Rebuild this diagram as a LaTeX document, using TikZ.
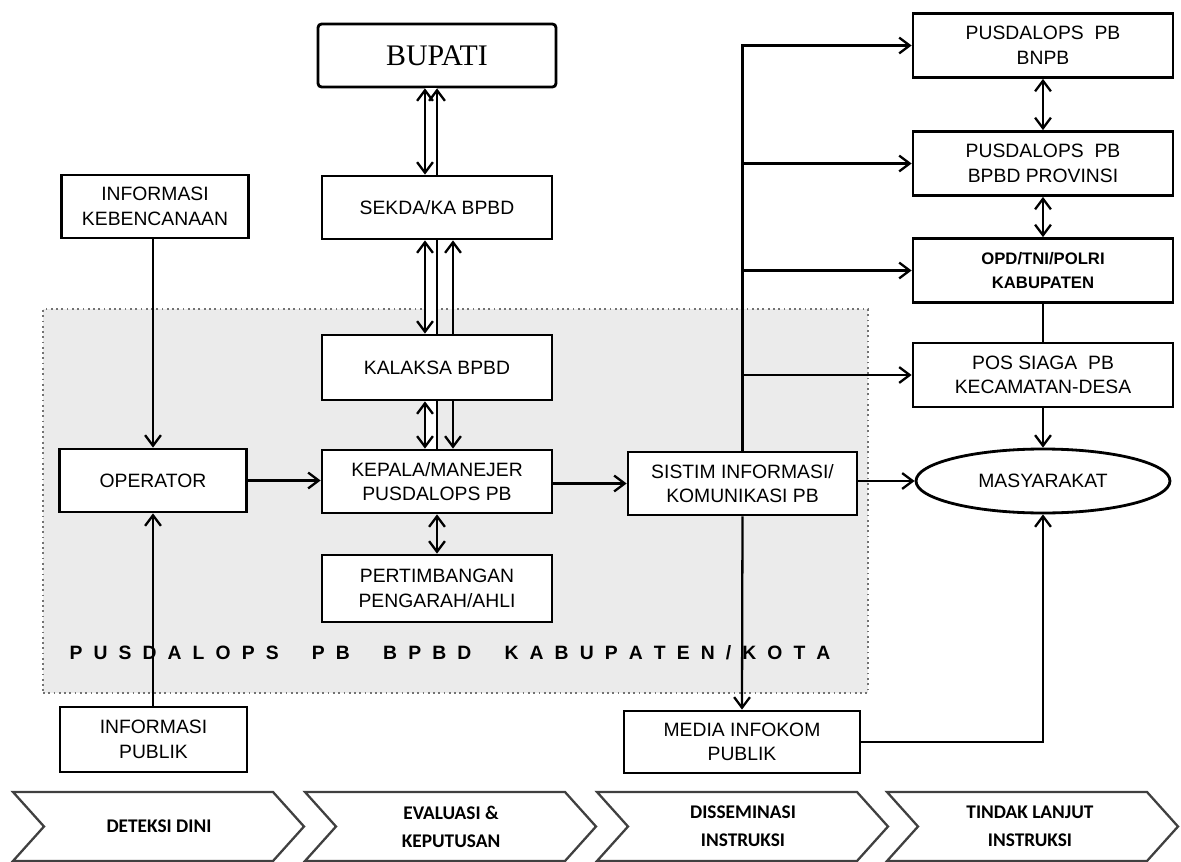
\documentclass[tikz,border=0pt]{standalone}
\usepackage{fontspec}
\setmainfont{Liberation Sans}
\newfontfamily\headfont{Liberation Serif}
\newfontfamily\phasefont{Carlito}
\usetikzlibrary{arrows.meta,shapes.geometric}

\begin{document}
\begin{tikzpicture}[
	x=0.02cm, y=-0.02cm,
	box/.style={draw, rectangle, line width=1.6pt, fill=white, align=center, inner sep=1pt,
		minimum width=4.6cm, minimum height=1.26cm, font=\fontsize{11}{14}\selectfont},
	sidebox/.style={box, minimum width=3.74cm},
	rightbox/.style={box, minimum width=5.2cm, minimum height=1.28cm},
	oval/.style={draw, ellipse, line width=1.6pt, fill=white, inner sep=0pt,
		minimum width=5.08cm, minimum height=1.28cm, font=\fontsize{11}{14}\selectfont},
	zone/.style={draw=black!55, dotted, line width=1pt, fill=black!8, inner sep=0pt},
	phase/.style={draw=black!75, line width=1.3pt, fill=white},
	phasetext/.style={align=center, font=\phasefont\bfseries\fontsize{11}{16}\selectfont},
	link/.style={line width=1.3pt},
	connect/.style={link, ->},
	>={Straight Barb[length=6pt,width=9pt,line width=1.3pt]}
	]
	\useasboundingbox (0,0) rectangle (1181,862);
	
	%-----------------------
	% PUSDALOPS area (background)
	%-----------------------
	\node[zone, minimum width=16.5cm, minimum height=7.68cm] (zone) at (455.5,501) {};
	\node[font=\bfseries\fontsize{11}{13}\selectfont] (zonelabel) at (450,653)
	{\makebox[15.22cm][s]{P\hfill U\hfill S\hfill D\hfill A\hfill L\hfill O\hfill P\hfill S\hfill\hfill\hfill
			P\hfill B\hfill\hfill\hfill B\hfill P\hfill B\hfill D\hfill\hfill\hfill
			K\hfill A\hfill B\hfill U\hfill P\hfill A\hfill T\hfill E\hfill N\hfill /\hfill K\hfill O\hfill T\hfill A}};
	
	%-----------------------
	% Column 1: detection
	%-----------------------
	\node[sidebox] (infokeb)  at (155,206.5) {INFORMASI\\KEBENCANAAN};
	\node[sidebox] (operator) at (153,480.5) {OPERATOR};
	\node[sidebox, minimum height=1.3cm] (infopub) at (153.5,739.5) {INFORMASI\\PUBLIK};
	
	%-----------------------
	% Column 2: decision chain
	%-----------------------
	\node[box, minimum width=4.76cm, rounded corners=2pt, font=\headfont\fontsize{17}{18}\selectfont]
	(bupati) at (437,55.5) {BUPATI};
	\node[box] (sekda)   at (437,207.5) {SEKDA/KA BPBD};
	\node[box, minimum height=1.3cm] (kalaksa) at (437,367.5) {KALAKSA BPBD};
	\node[box] (kepala)  at (437,481.5) {KEPALA/MANEJER\\PUSDALOPS PB};
	\node[box, minimum height=1.34cm] (ahli) at (437,588.5) {PERTIMBANGAN\\PENGARAH/AHLI};
	
	%-----------------------
	% Column 3: dissemination
	%-----------------------
	\node[box, minimum width=4.58cm] (sistim) at (742.5,483.5) {SISTIM INFORMASI/\\KOMUNIKASI PB};
	\node[box, minimum width=4.72cm, minimum height=1.24cm] (media) at (742,742) {MEDIA INFOKOM\\PUBLIK};
	
	%-----------------------
	% Column 4: follow-up
	%-----------------------
	\node[rightbox] (bnpb) at (1043,45.5)  {PUSDALOPS\ \ PB\\BNPB};
	\node[rightbox] (prov) at (1043,163.5) {PUSDALOPS\ \ PB\\BPBD PROVINSI};
	\node[rightbox, font=\bfseries\fontsize{9.5}{14}\selectfont] (opd) at (1043,270.5) {OPD/TNI/POLRI\\KABUPATEN};
	\node[rightbox] (pos)  at (1043,375)   {POS SIAGA\ \ PB\\KECAMATAN-DESA};
	\node[oval] (masy) at (1043,481) {MASYARAKAT};
	
	%-----------------------
	% Phase chevrons
	%-----------------------
	\foreach \xl in {13,305,597,887}
	\draw[phase] (\xl,792) -- ++(260,0) -- ++(31,34.5) -- ++(-31,34.5) -- ++(-260,0) -- ++(31,-34.5) -- cycle;
	\node[phasetext] (phase1) at (159,826.5)  {DETEKSI DINI};
	\node[phasetext] (phase2) at (451,826.5)  {EVALUASI \&\\KEPUTUSAN};
	\node[phasetext] (phase3) at (743,826.5)  {DISSEMINASI\\INSTRUKSI};
	\node[phasetext] (phase4) at (1030,826.5) {TINDAK LANJUT\\INSTRUKSI};
	
	%-----------------------
	% Connections
	%-----------------------
	\coordinate (colA) at (425,0);
	\coordinate (colB) at (437,0);
	\coordinate (colC) at (453,0);
	
	% detection -> operator -> head -> information system
	\draw[connect] (infokeb.south -| operator.north) -- (operator.north);
	\draw[connect] (infopub.north -| operator.south) -- (operator.south);
	\draw[connect] (operator.east) -- (operator.east -| kepala.west);
	\draw[connect] (kepala.east |- sistim.west) -- (sistim.west);
	\draw[link, <->] (kepala.south) -- (ahli.north);
	
	% hollow double lines of the decision chain
	\fill[white] (bupati.south -| colA) rectangle (sekda.north -| colB);
	\fill[white] (sekda.south -| colA) rectangle (kalaksa.north -| colB);
	\fill[white] (kalaksa.south -| colA) rectangle (kepala.north -| colB);
	\draw[link, <->] (bupati.south -| colA) -- (sekda.north -| colA);
	\draw[link, <-] (bupati.south -| colB) -- (sekda.north -| colB);
	\draw[link, <->] (sekda.south -| colA) -- (kalaksa.north -| colA);
	\draw[link] (sekda.south -| colB) -- (kalaksa.north -| colB);
	\draw[link, <-] (sekda.south -| colC) -- (kalaksa.north -| colC);
	\draw[link, <->] (kalaksa.south -| colA) -- (kepala.north -| colA);
	\draw[link] (kalaksa.south -| colB) -- (kepala.north -| colB);
	\draw[link, ->] (kalaksa.south -| colC) -- (kepala.north -| colC);
	
	% information system trunk -> follow-up units
	\draw[connect] (sistim.north) |- (bnpb.west);
	\draw[connect] (sistim.north |- prov.west) -- (prov.west);
	\draw[connect] (sistim.north |- opd.west) -- (opd.west);
	\draw[connect] (sistim.north |- pos.west) -- (pos.west);
	\draw[connect] (sistim.south) -- (media.north);
	\draw[connect] (sistim.east |- masy.west) -- (masy.west);
	\draw[connect] (media.east) -| (masy.south);
	
	% follow-up chain
	\draw[link, <->] (bnpb.south) -- (prov.north);
	\draw[link, <->] (prov.south) -- (opd.north);
	\draw[link] (opd.south) -- (pos.north);
	\draw[connect] (pos.south) -- (masy.north);
	
\end{tikzpicture}
\end{document}
